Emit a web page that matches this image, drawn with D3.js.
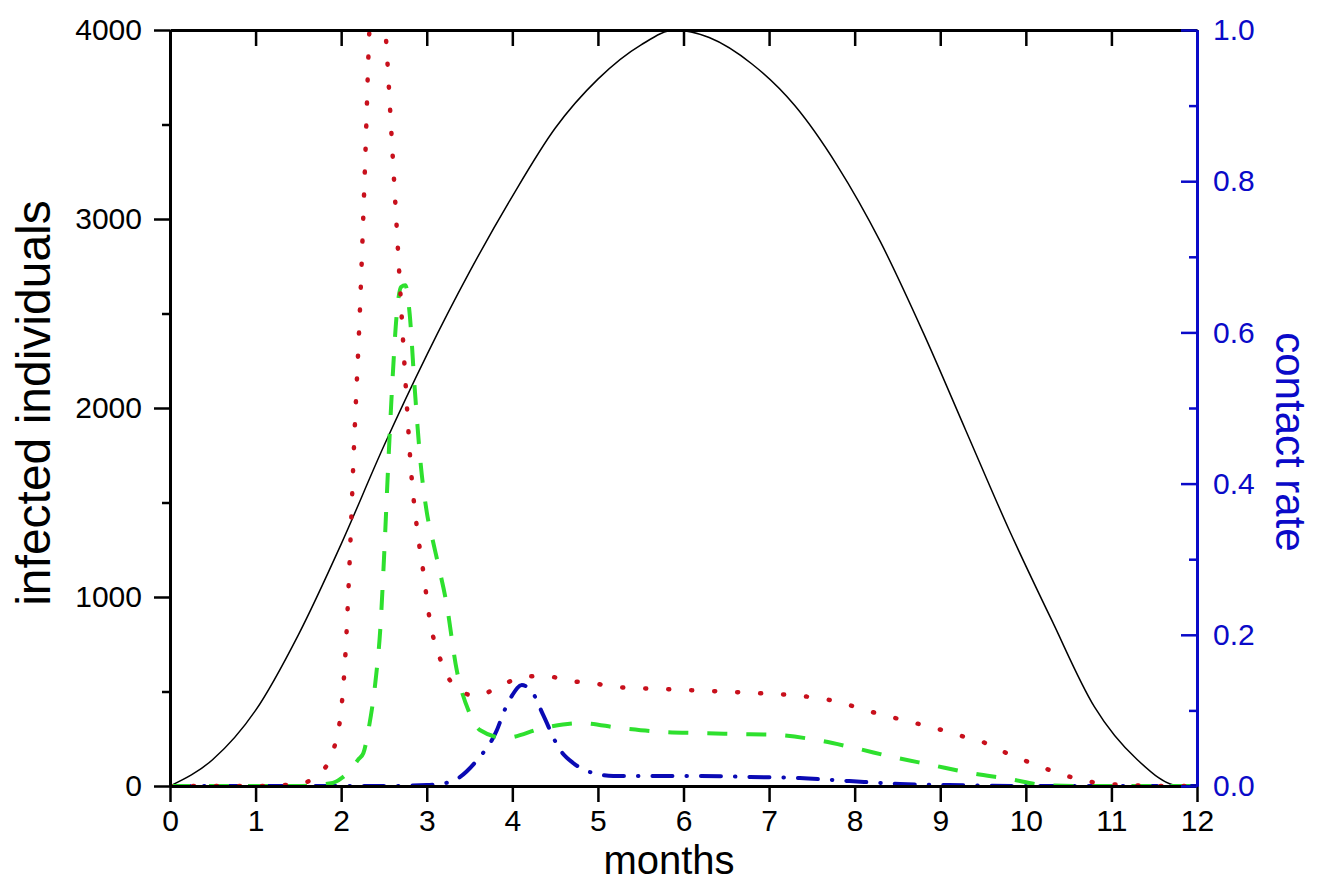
<!DOCTYPE html>
<html>
<head>
<meta charset="utf-8">
<script src="https://cdn.jsdelivr.net/npm/d3@7"></script>
<style>
  body { margin: 0; background: #fff; }
  svg text { font-family: "Liberation Sans", Arial, sans-serif; }
</style>
</head>
<body>
<svg id="chart" width="1317" height="882"></svg>
<script>
// contact rate (right axis)
const rateMonths = [0, 0.5, 1, 1.5, 2, 2.5, 3, 3.5, 4, 4.5, 5, 5.5, 5.9, 6.3, 6.8, 7.3, 7.8, 8.3, 8.8, 9.3, 9.8, 10.3, 10.8, 11.3, 11.8, 12];
const rateValues = [0, 0.035, 0.1, 0.2, 0.32, 0.45, 0.57, 0.68, 0.78, 0.87, 0.935, 0.98, 1.0, 0.99, 0.955, 0.9, 0.82, 0.72, 0.6, 0.47, 0.34, 0.22, 0.105, 0.035, 0, 0];

// infected individuals (left axis)
const redMonths = [0, 1, 1.5, 1.64, 1.75, 1.86, 1.94, 2.0, 2.05, 2.1, 2.15, 2.22, 2.28, 2.33, 2.38, 2.43, 2.48, 2.53, 2.6, 2.68, 2.75, 2.82, 2.89, 2.96, 3.03, 3.17, 3.31, 3.45, 3.58, 3.84, 4.12, 4.39, 4.66, 4.93, 5.21, 5.76, 6.3, 6.83, 7.38, 7.65, 7.93, 8.2, 8.47, 8.75, 9.02, 9.29, 9.56, 9.82, 10.1, 10.37, 10.66, 10.92, 11.2, 11.5, 12];
const redValues = [0, 0, 10, 30, 70, 132, 243, 400, 700, 1200, 1800, 2529, 3300, 4000, 4300, 4380, 4250, 3910, 3350, 2704, 2150, 1650, 1350, 1132, 894, 656, 534, 490, 476, 524, 577, 582, 556, 545, 524, 513, 503, 492, 476, 460, 429, 392, 360, 328, 296, 259, 222, 164, 116, 69, 32, 11, 5, 0, 0];

const greenMonths = [0, 1.5, 1.9, 2.0, 2.1, 2.2, 2.26, 2.32, 2.4, 2.46, 2.5, 2.55, 2.6, 2.65, 2.7, 2.75, 2.8, 2.86, 2.93, 3.0, 3.07, 3.13, 3.23, 3.35, 3.5, 3.62, 3.91, 4.36, 4.79, 5.26, 5.75, 6.19, 6.65, 7.09, 7.56, 8.0, 8.45, 8.9, 9.35, 9.81, 10.22, 10.6, 12];
const greenValues = [0, 0, 16, 40, 80, 140, 175, 300, 550, 850, 1200, 1700, 2150, 2500, 2640, 2650, 2500, 2100, 1700, 1450, 1300, 1180, 968, 614, 386, 296, 254, 307, 333, 307, 286, 280, 275, 270, 243, 201, 153, 111, 69, 37, 5, 0, 0];

const blueMonths = [0, 2.5, 3.0, 3.27, 3.59, 3.82, 3.91, 4.0, 4.11, 4.24, 4.36, 4.56, 4.71, 4.94, 5.18, 5.72, 6.19, 6.78, 7.36, 7.94, 8.53, 9.1, 10, 12];
const blueValues = [0, 0, 5, 21, 138, 296, 402, 481, 534, 492, 376, 190, 122, 69, 53, 53, 53, 48, 42, 26, 11, 5, 0, 0];

const monthTicks = d3.range(0, 13);
const infectedTicks = [0, 1000, 2000, 3000, 4000];
const infectedMinor = [500, 1500, 2500, 3500];
const rateTicks = [0, 0.2, 0.4, 0.6, 0.8, 1.0];
const rateMinor = [0.1, 0.3, 0.5, 0.7, 0.9];

const blue = "#0a0ac8";

const svg = d3.select("#chart");
const margin = {left: 170, right: 120, top: 30, bottom: 96};
const W = 1317, H = 882;

const x = d3.scaleLinear().domain([0, 12]).range([margin.left, W - margin.right]);
const yL = d3.scaleLinear().domain([0, 4000]).range([H - margin.bottom, margin.top]);
const yR = d3.scaleLinear().domain([0, 1]).range([H - margin.bottom, margin.top]);

svg.append("defs").append("clipPath").attr("id", "plot")
  .append("rect")
  .attr("x", x(0)).attr("y", yL(4000))
  .attr("width", x(12) - x(0)).attr("height", yL(0) - yL(4000));

/** Curves
------------------------------------------------------------*/

const curves = svg.append("g").attr("clip-path", "url(#plot)");

const lineL = d3.line().x(d => x(d[0])).y(d => yL(d[1])).curve(d3.curveMonotoneX);
const lineR = d3.line().x(d => x(d[0])).y(d => yR(d[1])).curve(d3.curveMonotoneX);

curves.append("path")
  .attr("d", lineR(d3.zip(rateMonths, rateValues)))
  .attr("fill", "none").attr("stroke", "#000").attr("stroke-width", 1.5);

curves.append("path")
  .attr("d", lineL(d3.zip(blueMonths, blueValues)))
  .attr("fill", "none").attr("stroke", "#0a0ab4").attr("stroke-width", 4)
  .attr("stroke-linecap", "round")
  .attr("stroke-dasharray", "20 14 0.5 14");

curves.append("path")
  .attr("d", lineL(d3.zip(greenMonths, greenValues)))
  .attr("fill", "none").attr("stroke", "#2ee02e").attr("stroke-width", 4)
  .attr("stroke-dasharray", "20 19");

curves.append("path")
  .attr("d", lineL(d3.zip(redMonths, redValues)))
  .attr("fill", "none").attr("stroke", "#c8101c").attr("stroke-width", 4.5)
  .attr("stroke-linecap", "round")
  .attr("stroke-dasharray", "1 22");

/** Axes
------------------------------------------------------------*/

function styleAxis(g, color) {
  g.select(".domain").attr("stroke", color).attr("stroke-width", 3);
  g.selectAll(".tick line").attr("stroke", color).attr("stroke-width", 2.5);
  g.selectAll("text").attr("fill", color).attr("font-size", 30)
    .attr("font-family", "'Liberation Sans', Arial, sans-serif");
}

// top
svg.append("g")
  .attr("transform", `translate(0,${margin.top})`)
  .call(d3.axisTop(x).tickValues(monthTicks).tickSize(-16).tickSizeOuter(0).tickFormat(""))
  .call(g => styleAxis(g, "#000"));

// bottom
svg.append("g")
  .attr("transform", `translate(0,${H - margin.bottom})`)
  .call(d3.axisBottom(x).tickValues(monthTicks).tickSize(16).tickSizeOuter(0).tickPadding(8))
  .call(g => styleAxis(g, "#000"));

// left
svg.append("g")
  .attr("transform", `translate(${margin.left},0)`)
  .call(d3.axisLeft(yL).tickValues(infectedMinor).tickSize(8).tickSizeOuter(0).tickFormat(""))
  .call(g => styleAxis(g, "#000"));
svg.append("g")
  .attr("transform", `translate(${margin.left},0)`)
  .call(d3.axisLeft(yL).tickValues(infectedTicks).tickSize(16).tickSizeOuter(0).tickPadding(12).tickFormat(d3.format("d")))
  .call(g => styleAxis(g, "#000"));

// right
svg.append("g")
  .attr("transform", `translate(${W - margin.right},0)`)
  .call(d3.axisRight(yR).tickValues(rateMinor).tickSize(-8).tickSizeOuter(0).tickFormat(""))
  .call(g => styleAxis(g, blue));
svg.append("g")
  .attr("transform", `translate(${W - margin.right},0)`)
  .call(d3.axisRight(yR).tickValues(rateTicks).tickSize(-16).tickSizeOuter(0).tickPadding(16).tickFormat(d3.format(".1f")))
  .call(g => styleAxis(g, blue));

/** Titles
------------------------------------------------------------*/

svg.append("text")
  .attr("x", 669).attr("y", 874)
  .attr("text-anchor", "middle")
  .attr("font-size", 40)
  .text("months");

svg.append("text")
  .attr("transform", `translate(50,403) rotate(-90)`)
  .attr("text-anchor", "middle")
  .attr("font-size", 48)
  .text("infected individuals");

svg.append("text")
  .attr("transform", `translate(1276,442) rotate(90)`)
  .attr("text-anchor", "middle")
  .attr("font-size", 42)
  .attr("fill", blue)
  .text("contact rate");
</script>
</body>
</html>
